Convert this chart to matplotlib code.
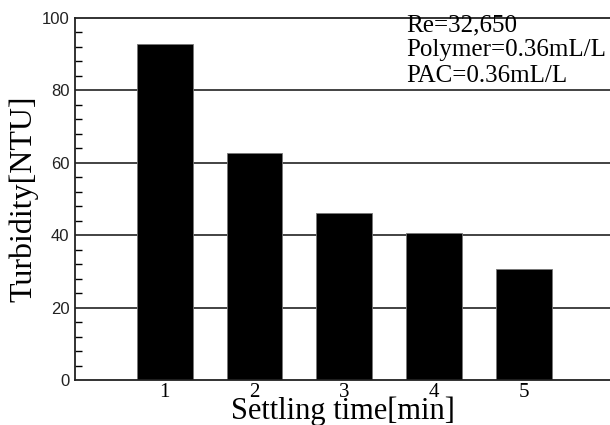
import matplotlib

matplotlib.use("Agg")
import matplotlib.pyplot as plt  # noqa: E402
from matplotlib.ticker import MultipleLocator  # noqa: E402

# data
settling_time = [1, 2, 3, 4, 5]
turbidity = [92.7, 62.6, 46.0, 40.6, 30.7]
y_ticks = [0, 20, 40, 60, 80, 100]
note_lines = ["Re=32,650", "Polymer=0.36mL/L", "PAC=0.36mL/L"]

serif = "Liberation Serif"
sans = "Liberation Sans"

fig = plt.figure(figsize=(6.1, 4.25), dpi=100)
ax = fig.add_axes([75 / 610, 45 / 425, 1 - 75 / 610, 362 / 425])

# horizontal grid lines behind the bars
for y in y_ticks[1:-1]:
    ax.axhline(y, color="#222222", linewidth=1.2, zorder=1)

ax.bar(settling_time, turbidity, width=0.62, color="black",
       edgecolor="#777777", linewidth=0.6, zorder=2)

ax.set_xlim(0, 5.96)
ax.set_ylim(0, 100)
ax.set_yticks(y_ticks)
ax.yaxis.set_minor_locator(MultipleLocator(4))
ax.set_xticks(settling_time)

ax.tick_params(axis="y", which="major", direction="in", length=0, pad=4)
ax.tick_params(axis="y", which="minor", direction="in", length=5, width=1.0)
ax.tick_params(axis="x", length=0, pad=2)
for lab in ax.get_yticklabels():
    lab.set_fontfamily(sans)
    lab.set_fontsize(12)
    lab.set_color("#222222")
for lab in ax.get_xticklabels():
    lab.set_fontfamily(serif)
    lab.set_fontsize(15)

ax.set_xlabel("Settling time[min]", family=serif, fontsize=22, labelpad=-4)
ax.set_ylabel("Turbidity[NTU]", family=serif, fontsize=23, labelpad=2)

for side in ["top", "left", "bottom"]:
    ax.spines[side].set_linewidth(1.3)
    ax.spines[side].set_color("#222222")
ax.spines["right"].set_visible(False)

ax.text(0.62, 1.01, "\n".join(note_lines), transform=ax.transAxes,
        ha="left", va="top", family=serif, fontsize=18, linespacing=1.18)

fig.savefig("out.png", dpi=100)
